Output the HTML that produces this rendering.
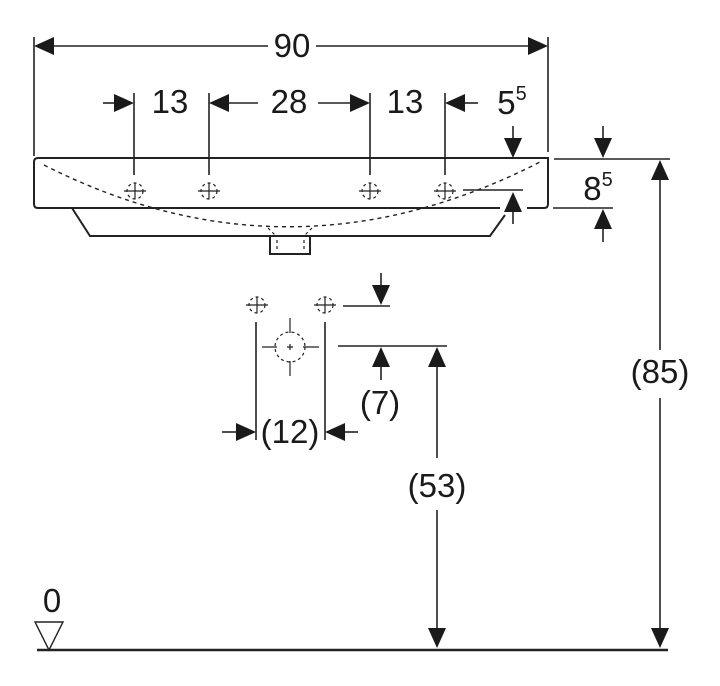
<!DOCTYPE html>
<html><head><meta charset="utf-8"><style>
html,body{margin:0;padding:0;background:#fff;}
svg{display:block;}
text{font-family:"Liberation Sans",Arial,sans-serif;fill:#1a1a1a;}
</style></head><body>
<svg width="720" height="686" viewBox="0 0 720 686" xmlns="http://www.w3.org/2000/svg">
<defs>
<g id="hole">
<circle r="8" fill="none" stroke="#222" stroke-width="1.2" stroke-dasharray="3,3"/>
<line x1="-11" y1="0" x2="11" y2="0" stroke="#222" stroke-width="1.2"/>
<line x1="0" y1="-8" x2="0" y2="8" stroke="#222" stroke-width="1.2"/>
</g>
</defs>
<g stroke="#222" stroke-width="1.6" fill="none">
<!-- 90 dim -->
<line x1="34" y1="37" x2="34" y2="156"/>
<line x1="548" y1="37" x2="548" y2="152"/>
<line x1="52" y1="46" x2="268" y2="46"/>
<line x1="316" y1="46" x2="530" y2="46"/>
<!-- extension lines -->
<line x1="134" y1="93" x2="134" y2="175"/>
<line x1="209" y1="93" x2="209" y2="175"/>
<line x1="370" y1="93" x2="370" y2="175"/>
<line x1="445" y1="93" x2="445" y2="175"/>
<line x1="103" y1="103" x2="118" y2="103"/>
<line x1="228" y1="103" x2="258" y2="103"/>
<line x1="318" y1="103" x2="352" y2="103"/>
<line x1="464" y1="103" x2="478" y2="103"/>
<!-- basin -->
<path d="M38,158 L548,158 L548,204 Q548,208 544,208 L527,208 M500,208 L38,208 Q34,208 34,204 L34,162 Q34,158 38,158" stroke-width="2"/>
<path d="M72,208 L90,236 L490,236 L505,215" stroke-width="2"/>
<rect x="270" y="236" width="40" height="18" stroke-width="2"/>
<path d="M44,165 Q290,290 540,162" stroke-width="1.4" stroke-dasharray="4,4"/>
<path d="M268,228 L276,236 M312,228 L304,236 M277,240 L277,252 M304,240 L304,252" stroke-width="1.2" stroke-dasharray="3,3"/>
<!-- 5.5 -->
<line x1="513" y1="126" x2="513" y2="140"/>
<line x1="463" y1="190" x2="523" y2="190"/>
<line x1="513" y1="210" x2="513" y2="224"/>
<!-- 8.5 -->
<line x1="554" y1="159" x2="670" y2="159"/>
<line x1="553" y1="208" x2="613" y2="208"/>
<line x1="603" y1="126" x2="603" y2="140"/>
<line x1="603" y1="226" x2="603" y2="242"/>
<!-- 85 -->
<line x1="660" y1="178" x2="660" y2="350"/>
<line x1="660" y1="398" x2="660" y2="630"/>
<!-- floor -->
<line x1="37" y1="650" x2="668" y2="650" stroke-width="2.6"/>
<path d="M35,622 L63,622 L49,650 Z" stroke-width="1.4"/>
<!-- lower -->
<line x1="256" y1="322" x2="256" y2="440"/>
<line x1="325" y1="322" x2="325" y2="440"/>
<circle cx="290" cy="347" r="15" stroke-width="1.2" stroke-dasharray="3,3"/>
<path d="M262,347 L277,347 M303,347 L319,347 M290,318 L290,333 M290,361 L290,376 M287,347 L293,347 M290,344 L290,350" stroke-width="1.2"/>
<line x1="343" y1="306" x2="390" y2="306"/>
<line x1="338" y1="346" x2="447" y2="346"/>
<line x1="381" y1="273" x2="381" y2="288"/>
<line x1="381" y1="366" x2="381" y2="380"/>
<line x1="437" y1="366" x2="437" y2="458"/>
<line x1="437" y1="510" x2="437" y2="630"/>
<line x1="222" y1="432" x2="238" y2="432"/>
<line x1="342" y1="432" x2="358" y2="432"/>
</g>
<g fill="#1a1a1a">
<path d="M34,46 L54,37 L54,55 Z"/>
<path d="M548,46 L528,37 L528,55 Z"/>
<path d="M134,103 L114,94 L114,112 Z"/>
<path d="M209,103 L229,94 L229,112 Z"/>
<path d="M370,103 L350,94 L350,112 Z"/>
<path d="M445,103 L465,94 L465,112 Z"/>
<path d="M513,158 L504,138 L522,138 Z"/>
<path d="M513,192 L504,212 L522,212 Z"/>
<path d="M603,158 L594,138 L612,138 Z"/>
<path d="M603,209 L594,229 L612,229 Z"/>
<path d="M660,160 L651,180 L669,180 Z"/>
<path d="M660,648 L651,628 L669,628 Z"/>
<path d="M381,305 L372,285 L390,285 Z"/>
<path d="M381,347 L372,367 L390,367 Z"/>
<path d="M437,347 L428,367 L446,367 Z"/>
<path d="M437,648 L428,628 L446,628 Z"/>
<path d="M256,432 L236,423 L236,441 Z"/>
<path d="M325,432 L345,423 L345,441 Z"/>
</g>
<use href="#hole" x="135" y="191"/>
<use href="#hole" x="209" y="191"/>
<use href="#hole" x="370" y="191"/>
<use href="#hole" x="445" y="191"/>
<use href="#hole" x="257" y="305"/>
<use href="#hole" x="325" y="305"/>
<g font-size="33" text-anchor="middle">
<text x="292" y="57">90</text>
<text x="170" y="113">13</text>
<text x="289" y="113">28</text>
<text x="405" y="113">13</text>
<text x="512" y="114">5<tspan font-size="20" dy="-14">5</tspan></text>
<text x="598" y="200">8<tspan font-size="20" dy="-14">5</tspan></text>
<text x="660" y="383">(85)</text>
<text x="380" y="414">(7)</text>
<text x="290" y="443">(12)</text>
<text x="437" y="497">(53)</text>
<text x="52" y="612">0</text>
</g>
</svg>
</body></html>
